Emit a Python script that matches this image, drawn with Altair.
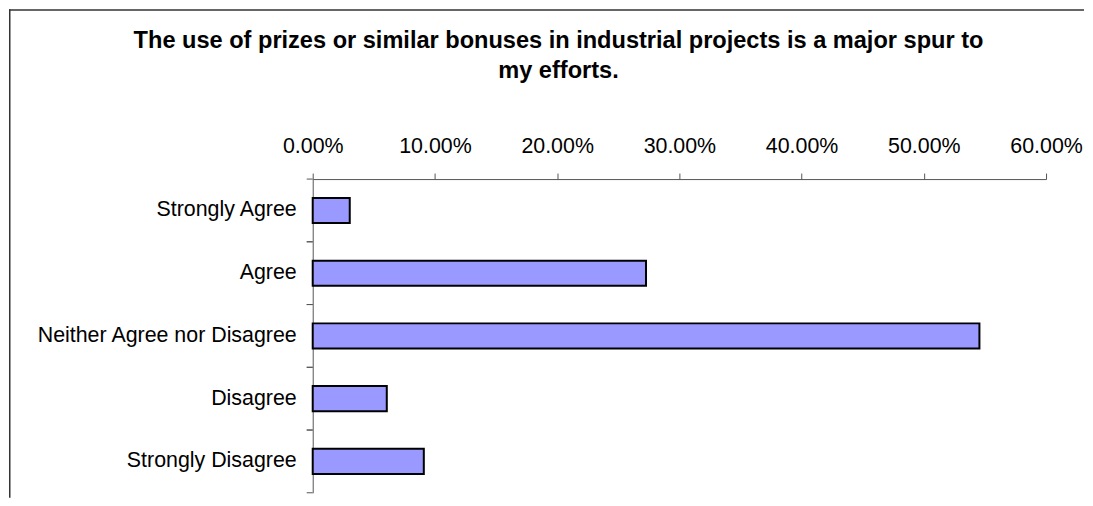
import altair as alt
import pandas as pd

categories = ["Strongly Agree", "Agree", "Neither Agree nor Disagree", "Disagree", "Strongly Disagree"]
shares = [0.0303, 0.2727, 0.5455, 0.0606, 0.0909]
x_ticks = [0.0, 0.1, 0.2, 0.3, 0.4, 0.5, 0.6]
title_lines = [
    "The use of prizes or similar bonuses in industrial projects is a major spur to",
    "my efforts.",
]

df = pd.DataFrame({"response": categories, "share": shares})
title_df = pd.DataFrame({"t": ["\n".join(title_lines)]})
border_df = pd.DataFrame({"b": [0]})

FONT = "Liberation Sans"
W, H = 734, 314
AXIS_COLOR = "#555555"
PAD_INNER, PAD_OUTER = 0.6, 0.3
y_scale = alt.Scale(paddingInner=PAD_INNER, paddingOuter=PAD_OUTER)
# pixel distance from a bar edge to the category boundary (half the inner gap)
step = H / (len(categories) - PAD_INNER + 2 * PAD_OUTER)
half_gap_px = step * PAD_INNER / 2

bars = alt.Chart(df).mark_bar(color="#9999FF", stroke="#000000", strokeWidth=2).encode(
    x=alt.X(
        "share:Q",
        scale=alt.Scale(domain=[0, 0.6], nice=False, zero=True),
        axis=alt.Axis(
            orient="top", values=x_ticks, format=".2%", title=None, grid=False,
            labelFontSize=21.4, labelFont=FONT, labelColor="#000000", labelPadding=17,
            ticks=True, tickSize=6, tickWidth=1, tickColor=AXIS_COLOR,
            domainColor=AXIS_COLOR, domainWidth=1,
            labelFlush=False, labelOverlap=False,
        ),
    ),
    y=alt.Y(
        "response:N",
        sort=categories,
        scale=y_scale,
        axis=alt.Axis(
            title=None, ticks=False, labelFontSize=21.4, labelFont=FONT,
            labelColor="#000000", labelPadding=16.5,
            domainColor=AXIS_COLOR, domainWidth=1, labelLimit=400,
        ),
    ),
)

# category-boundary ticks on the y axis (above and below every category band)
tick_start = alt.Chart(df).mark_rule(color=AXIS_COLOR, strokeWidth=1, yOffset=-half_gap_px).encode(
    y=alt.Y("response:N", sort=categories, bandPosition=0),
    x=alt.value(-6), x2=alt.value(0),
)
tick_end = alt.Chart(df).mark_rule(color=AXIS_COLOR, strokeWidth=1, yOffset=half_gap_px).encode(
    y=alt.Y("response:N", sort=categories, bandPosition=1),
    x=alt.value(-6), x2=alt.value(0),
)

title = alt.Chart(title_df).mark_text(
    font=FONT, fontSize=23.6, fontWeight="bold", align="center",
    baseline="alphabetic", lineBreak="\n", lineHeight=30, color="#000000",
).encode(text="t:N", x=alt.value(246), y=alt.value(-131))

left_border = alt.Chart(border_df).mark_rule(color="#333333", strokeWidth=1.5).encode(
    x=alt.value(-303.25), y=alt.value(-170), y2=alt.value(319)
)
top_border = alt.Chart(border_df).mark_rule(color="#333333", strokeWidth=1.5).encode(
    x=alt.value(-304), x2=alt.value(772), y=alt.value(-169.25)
)

chart = (
    alt.layer(bars, tick_start, tick_end, title, left_border, top_border)
    .resolve_scale(y="shared")
    .properties(width=W, height=H, padding=0, background="white")
    .configure_view(strokeWidth=0)
)

chart.save("out.html", embed_options={"renderer": "svg", "actions": False})
